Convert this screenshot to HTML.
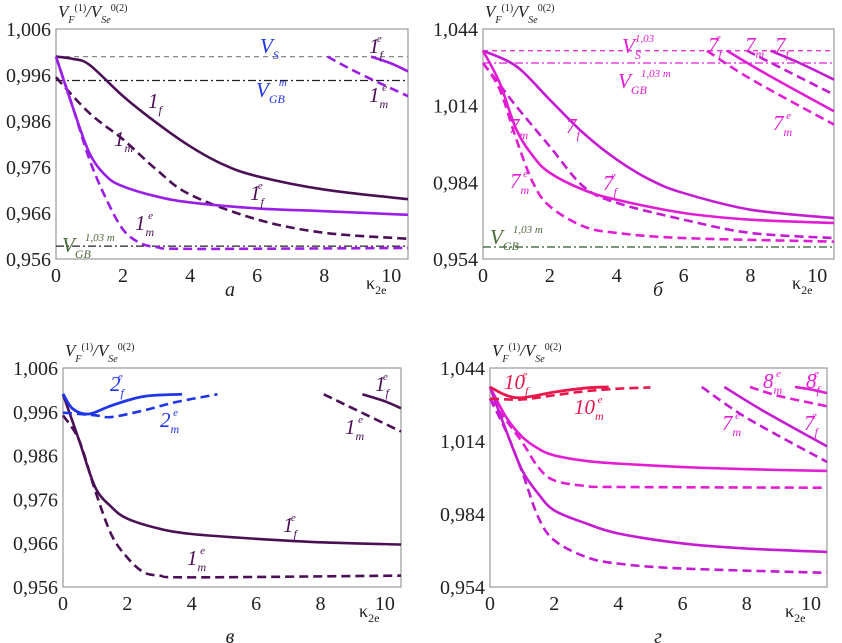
<!DOCTYPE html>
<html><head><meta charset="utf-8"><style>
body{margin:0;background:#fff;}
svg{display:block;font-family:"Liberation Serif",serif;}
</style></head>
<body>
<svg id="chart" width="842" height="643" viewBox="0 0 842 643" xmlns="http://www.w3.org/2000/svg"></svg>
<script>
// ---------- data (x = kappa_2e, y = V_F/V_Se) ----------
const xTicks = [0, 2, 4, 6, 8, 10];
const yTicksA = [1.006, 0.996, 0.986, 0.976, 0.966, 0.956];
const yTicksB = [1.044, 1.014, 0.984, 0.954];
const yTickLabelsA = ["1,006", "0,996", "0,986", "0,976", "0,966", "0,956"];
const yTickLabelsB = ["1,044", "1,014", "0,984", "0,954"];

// panel a
const a_refVS = 1.0;
const a_refVGBm = 0.9948;
const a_refVGB103 = 0.9588;
const a_1f = [[0,1.0],[0.5,0.9995],[1,0.9982],[2,0.9914],[3,0.9856],[4,0.9805],[5,0.9765],[6,0.974],[8,0.9711],[10.5,0.969]];
const a_1m = [[0,0.9955],[1,0.9877],[2,0.982],[3,0.9754],[4,0.970],[6,0.9646],[8,0.9617],[10.5,0.9604]];
const a_1fe = [[0,1.0],[0.5,0.989],[1,0.979],[1.5,0.974],[2,0.9718],[3,0.9696],[4,0.9683],[6,0.967],[8,0.9664],[10.5,0.9656]];
const a_1me = [[0,1.0],[0.5,0.989],[1,0.9776],[1.5,0.969],[2,0.9624],[2.5,0.9595],[3,0.9586],[4,0.9582],[10.5,0.9584]];
const a_1me_hi = [[8.1,1.0],[9,0.9965],[10.5,0.9914]];
const a_1fe_hi = [[9.4,1.0],[10,0.9985],[10.5,0.9968]];

// panel b
const b_refVS = 1.0355;
const b_refVGBm = 1.0307;
const b_refVGB = 0.9587;
const b_7f = [[0,1.0355],[1,1.0294],[2,1.0163],[3,1.0033],[4,0.9929],[5,0.985],[6,0.9798],[8,0.9733],[10.5,0.970]];
const b_7m = [[0,1.0307],[0.5,1.0222],[1,1.0137],[2,0.998],[3,0.9824],[4,0.976],[6,0.9694],[8,0.9642],[10.5,0.9622]];
const b_7fe = [[0,1.0355],[0.5,1.0229],[1,1.0046],[1.5,0.9942],[2,0.9877],[3,0.9811],[4,0.9772],[6,0.972],[8,0.9694],[10.5,0.9681]];
const b_7me = [[0,1.0307],[0.5,1.0203],[1,1.0007],[1.5,0.9837],[2,0.9746],[3,0.9668],[4,0.9642],[6,0.9622],[10.5,0.9608]];
const b_7fe_hi = [[7.3,1.0355],[8.5,1.0262],[10.5,1.0118]];
const b_7me_hi = [[6.7,1.0355],[8,1.0245],[10.5,1.0066]];
const b_7f_hi = [[8.6,1.0355],[9.5,1.0305],[10.5,1.0242]];
const b_7m_hi = [[7.9,1.0355],[9,1.0282],[10.5,1.0183]];

// panel c
const c_2fe = [[0,1.0001],[0.3,0.9967],[0.8,0.9955],[1.5,0.9974],[2.5,0.9995],[3.7,1.0]];
const c_2me = [[0,0.9958],[1,0.9952],[1.5,0.9948],[2.5,0.9963],[3.5,0.9982],[4.8,1.0]];
const c_1fe = [[0,1.0],[0.5,0.9895],[1,0.9788],[1.5,0.9743],[2,0.9716],[3,0.9693],[4,0.9681],[6,0.967],[8,0.9662],[10.5,0.9657]];
const c_1me = [[0,0.9952],[0.5,0.9895],[1,0.978],[1.5,0.968],[2,0.9627],[2.5,0.9594],[3,0.9586],[4,0.9582],[10.5,0.9586]];
const c_1me_hi = [[8.1,1.0],[9,0.9968],[10.5,0.9915]];
const c_1fe_hi = [[9.3,1.0],[10,0.9984],[10.5,0.9968]];

// panel d
const d_10fe = [[0,1.0362],[0.5,1.0328],[1,1.0318],[2,1.0341],[3,1.0358],[3.7,1.0362]];
const d_10me = [[0,1.0314],[1,1.0311],[2,1.0328],[3,1.0345],[4,1.0355],[5,1.036]];
const d_upS = [[0,1.0362],[0.5,1.0239],[1,1.0157],[1.5,1.0109],[2,1.0081],[3,1.0058],[4,1.0047],[6,1.0033],[8,1.0024],[10.5,1.0017]];
const d_upD = [[0,1.0314],[0.5,1.0225],[1,1.0136],[1.5,1.0033],[2,0.9978],[3,0.9955],[4,0.9951],[10.5,0.9948]];
const d_loS = [[0,1.0362],[0.5,1.0184],[1,1.002],[1.5,0.9924],[2,0.9855],[3,0.9801],[4,0.976],[6,0.9719],[8,0.9698],[10.5,0.9684]];
const d_loD = [[0,1.0314],[0.5,1.018],[1,1.0013],[1.5,0.9828],[2,0.9732],[3,0.9663],[4,0.9636],[6,0.9616],[10.5,0.9598]];
const d_7me_hi = [[6.6,1.0362],[8,1.0235],[10.5,1.0054]];
const d_7fe_hi = [[7.3,1.0362],[8.5,1.0265],[10.5,1.0118]];
const d_8me_hi = [[8.1,1.0362],[9,1.0325],[10.5,1.0283]];
const d_8fe_hi = [[9.5,1.0362],[10,1.0352],[10.5,1.0337]];

// ---------- drawing ----------
const NS = "http://www.w3.org/2000/svg";
const svg = document.getElementById("chart");
function mk(tag, attrs, parent){
  const e = document.createElementNS(NS, tag);
  for (const k in attrs) e.setAttribute(k, attrs[k]);
  (parent || svg).appendChild(e);
  return e;
}
const DP = "#4b0f55", PU = "#9a1ee6", MG = "#e21ed4", MG2 = "#c41cd2", BL = "#1f35ea", RD = "#e8184c";

function makePanel(name, L, T, R, B, ymax, ymin, yTicks, yLabels){
  const g = mk("g", {});
  
  
  const sx = v => L + (v / 10.5) * (R - L);
  const sy = v => T + (ymax - v) / (ymax - ymin) * (B - T);
  const frame = mk("rect", {x:L, y:T, width:R-L, height:B-T, fill:"none", stroke:"#9a9a9a", "stroke-width":1.2}, g);
  
  
  yTicks.forEach((t, i) => {
    const tx = mk("text", {x:L-5, y:sy(t)+7, "text-anchor":"end", "font-size":20, fill:"#222"}, g);
    tx.textContent = yLabels[i];
    
    
  });
  xTicks.forEach(t => {
    const tx = mk("text", {x:sx(t), y:B+23, "text-anchor":"middle", "font-size":20, fill:"#222"}, g);
    tx.textContent = t;
    
    
  });
  const xt = mk("text", {x:R-42, y:B+30, "font-size":18, fill:"#222"}, g);
  xt.innerHTML = 'κ<tspan font-size="12" dy="5">2e</tspan>';
  
  
  const yt = mk("text", {x:L+2, y:T-12, "font-size":17, "font-style":"italic", fill:"#222"}, g);
  yt.innerHTML = 'V<tspan font-size="10" dy="6">F</tspan><tspan font-size="10" dy="-12" font-style="normal">(1)</tspan><tspan dy="6">/V</tspan><tspan font-size="10" dy="6">Se</tspan><tspan font-size="10" dy="-12" font-style="normal">0(2)</tspan>';
  
  
  return {g, sx, sy, L, R};
}

function curve(p, pts, color, dashed, w, name){
  const P = pts.map(d => [p.sx(d[0]), p.sy(d[1])]);
  let d = "M" + P[0][0] + "," + P[0][1];
  for (let i = 0; i < P.length - 1; i++){
    const p0 = P[Math.max(0, i-1)], p1 = P[i], p2 = P[i+1], p3 = P[Math.min(P.length-1, i+2)];
    const c1 = [p1[0] + (p2[0]-p0[0])/6, p1[1] + (p2[1]-p0[1])/6];
    const c2 = [p2[0] - (p3[0]-p1[0])/6, p2[1] - (p3[1]-p1[1])/6];
    d += " C" + c1[0] + "," + c1[1] + " " + c2[0] + "," + c2[1] + " " + p2[0] + "," + p2[1];
  }
  const e = mk("path", {d, fill:"none", stroke:color, "stroke-width":w || 2.6}, p.g);
  if (dashed) e.setAttribute("stroke-dasharray", "9,5");
  
  
}
function hline(p, v, color, dash, name){
  const e = mk("line", {x1:p.L, x2:p.R, y1:p.sy(v), y2:p.sy(v), stroke:color, "stroke-width":1.2, "stroke-dasharray":dash}, p.g);
  
  
}
function label(p, x, y, main, sub, sup, color, name){
  const t = mk("text", {x, y, "font-size":21, "font-style":"italic", fill:color}, p.g);
  t.innerHTML = main + (sub ? '<tspan font-size="12" dy="6">' + sub + '</tspan>' : '') +
    (sup ? '<tspan font-size="11" dy="' + (sub ? -17 : -11) + '" dx="' + (sub ? -6 : 0) + '">' + sup + '</tspan>' : '');
  
  
}
function caption(x, y, s, name){
  const t = mk("text", {x, y, "font-size":20, "font-style":"italic", fill:"#222", "text-anchor":"middle"});
  t.textContent = s;
  
  
}

// panel a
const pa = makePanel("panel-a", 56, 29, 408, 259, 1.006, 0.956, yTicksA, yTickLabelsA);
hline(pa, a_refVS, "#888", "5,4", "ref-line-vs");
hline(pa, a_refVGBm, "#222", "8,3,2,3", "ref-line-vgb-m");
hline(pa, a_refVGB103, "#222", "8,3,2,3", "ref-line-vgb-103m");
curve(pa, a_1f, DP, false, 2.6, "curve-1f");
curve(pa, a_1m, DP, true, 2.6, "curve-1m");
curve(pa, a_1fe, PU, false, 2.6, "curve-1fe");
curve(pa, a_1me, PU, true, 2.6, "curve-1me");
curve(pa, a_1me_hi, PU, true, 2.6, "curve-1me-upper");
curve(pa, a_1fe_hi, PU, false, 2.6, "curve-1fe-upper");
label(pa, 260, 53, "V", "S", "", BL, "label-vs");
label(pa, 256, 97, "V", "GB", "m", BL, "label-vgb-m");
label(pa, 369, 53, "1", "f", "e", DP, "label-1fe-upper");
label(pa, 369, 102, "1", "m", "e", DP, "label-1me-upper");
label(pa, 148, 108, "1", "f", "", DP, "label-1f");
label(pa, 114, 146, "1", "m", "", DP, "label-1m");
label(pa, 250, 200, "1", "f", "e", DP, "label-1fe");
label(pa, 135, 230, "1", "m", "e", DP, "label-1me");
label(pa, 62, 252, "V", "GB", "1,03 m", "#4b6a3a", "label-vgb-103m");
caption(230, 296, "а", "caption-a");

// panel b
const pb = makePanel("panel-b", 483, 29, 834, 259, 1.044, 0.954, yTicksB, yTickLabelsB);
hline(pb, b_refVS, MG, "5,4", "ref-line-vs103");
hline(pb, b_refVGBm, MG, "8,3,2,3", "ref-line-vgb103m");
hline(pb, b_refVGB, "#2f5a2f", "8,3,2,3", "ref-line-vgb-low");
curve(pb, b_7f, MG2, false, 2.6, "curve-7f");
curve(pb, b_7m, MG2, true, 2.6, "curve-7m");
curve(pb, b_7fe, MG, false, 2.6, "curve-7fe");
curve(pb, b_7me, MG, true, 2.6, "curve-7me");
curve(pb, b_7fe_hi, MG, false, 2.6, "curve-7fe-upper");
curve(pb, b_7me_hi, MG, true, 2.6, "curve-7me-upper");
curve(pb, b_7f_hi, MG2, false, 2.6, "curve-7f-upper");
curve(pb, b_7m_hi, MG2, true, 2.6, "curve-7m-upper");
label(pb, 622, 53, "V", "S", "1,03", MG, "label-vs103");
label(pb, 618, 88, "V", "GB", "1,03 m", MG, "label-vgb103m");
label(pb, 708, 52, "7", "f", "e", MG, "label-7fe-upper");
label(pb, 745, 52, "7", "m", "", MG, "label-7m-upper");
label(pb, 775, 52, "7", "f", "", MG, "label-7f-upper");
label(pb, 773, 130, "7", "m", "e", MG, "label-7me-upper");
label(pb, 509, 133, "7", "m", "", MG, "label-7m");
label(pb, 566, 133, "7", "f", "", MG, "label-7f");
label(pb, 603, 190, "7", "f", "e", MG, "label-7fe");
label(pb, 510, 188, "7", "m", "e", MG, "label-7me");
label(pb, 490, 244, "V", "GB", "1,03 m", "#4b6a3a", "label-vgb-low");
caption(658, 296, "б", "caption-b");

// panel c
const pc = makePanel("panel-c", 63, 368, 401, 587, 1.006, 0.956, yTicksA, yTickLabelsA);
curve(pc, c_1fe, DP, false, 2.6, "curve-1fe");
curve(pc, c_1me, DP, true, 2.6, "curve-1me");
curve(pc, c_2fe, BL, false, 2.8, "curve-2fe");
curve(pc, c_2me, BL, true, 2.6, "curve-2me");
curve(pc, c_1me_hi, DP, true, 2.6, "curve-1me-upper");
curve(pc, c_1fe_hi, DP, false, 2.6, "curve-1fe-upper");
label(pc, 110, 391, "2", "f", "e", BL, "label-2fe");
label(pc, 160, 427, "2", "m", "e", BL, "label-2me");
label(pc, 375, 391, "1", "f", "e", DP, "label-1fe-upper");
label(pc, 345, 434, "1", "m", "e", DP, "label-1me-upper");
label(pc, 283, 532, "1", "f", "e", DP, "label-1fe");
label(pc, 187, 565, "1", "m", "e", DP, "label-1me");
caption(230, 643, "в", "caption-c");

// panel d
const pd = makePanel("panel-d", 490, 368, 827, 587, 1.044, 0.954, yTicksB, yTickLabelsB);
curve(pd, d_upS, MG, false, 2.6, "curve-upper-solid");
curve(pd, d_upD, MG, true, 2.6, "curve-upper-dashed");
curve(pd, d_loS, MG2, false, 2.6, "curve-lower-solid");
curve(pd, d_loD, MG2, true, 2.6, "curve-lower-dashed");
curve(pd, d_10fe, RD, false, 2.8, "curve-10fe");
curve(pd, d_10me, RD, true, 2.6, "curve-10me");
curve(pd, d_7me_hi, MG2, true, 2.6, "curve-7me-upper");
curve(pd, d_7fe_hi, MG2, false, 2.6, "curve-7fe-upper");
curve(pd, d_8me_hi, MG, true, 2.6, "curve-8me-upper");
curve(pd, d_8fe_hi, MG, false, 2.6, "curve-8fe-upper");
label(pd, 504, 389, "10", "f", "e", RD, "label-10fe");
label(pd, 574, 414, "10", "m", "e", RD, "label-10me");
label(pd, 763, 388, "8", "m", "e", MG, "label-8me");
label(pd, 806, 388, "8", "f", "e", MG, "label-8fe");
label(pd, 722, 430, "7", "m", "e", MG, "label-7me");
label(pd, 804, 430, "7", "f", "e", MG, "label-7fe");
caption(658, 643, "г", "caption-d");
</script>
</body></html>
